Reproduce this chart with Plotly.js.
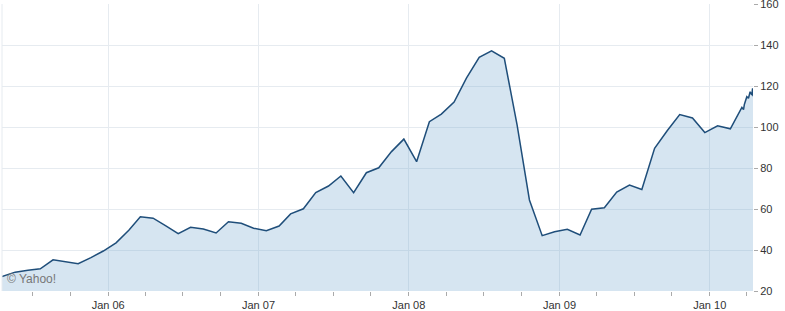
<!DOCTYPE html>
<html>
<head>
<meta charset="utf-8">
<script src="https://cdn.plot.ly/plotly-3.0.1.min.js"></script>
<style>html,body{margin:0;padding:0;background:#fff;}#chart{width:785px;height:311px;}</style>
</head>
<body>
<div id="chart"></div>
<script>
// Monthly closes (plotted near the 20th of each month), Apr 2005 – Mar 2010
const monthlyDates = [
  "2005-04-18","2005-05-20","2005-06-20","2005-07-20","2005-08-20","2005-09-20","2005-10-20","2005-11-20","2005-12-20",
  "2006-01-20","2006-02-20","2006-03-20","2006-04-20","2006-05-20","2006-06-20","2006-07-20","2006-08-20","2006-09-20","2006-10-20","2006-11-20","2006-12-20",
  "2007-01-20","2007-02-20","2007-03-20","2007-04-20","2007-05-20","2007-06-20","2007-07-20","2007-08-20","2007-09-20","2007-10-20","2007-11-20","2007-12-20",
  "2008-01-20","2008-02-20","2008-03-20","2008-04-20","2008-05-20","2008-06-20","2008-07-20","2008-08-20","2008-09-20","2008-10-20","2008-11-20","2008-12-20",
  "2009-01-20","2009-02-20","2009-03-20","2009-04-20","2009-05-20","2009-06-20","2009-07-20","2009-08-20","2009-09-20","2009-10-20","2009-11-20","2009-12-20",
  "2010-01-20","2010-02-20","2010-03-20"
];
const monthlyValues = [
  27.0, 29.2, 30.1, 30.8, 35.2, 34.1, 33.3, 36.3, 39.5,
  43.5, 49.6, 56.2, 55.5, 51.9, 48.0, 51.1, 50.2, 48.3, 53.8, 53.0, 50.6,
  49.4, 51.7, 57.6, 60.1, 68.0, 71.2, 76.1, 68.0, 77.7, 80.1, 88.0, 94.1,
  83.1, 102.6, 106.3, 112.2, 123.8, 134.0, 137.1, 133.5, 101.0, 64.4, 47.0, 48.9,
  50.1, 47.3, 59.9, 60.6, 68.3, 71.7, 69.5, 89.6, 98.3, 106.1, 104.4, 97.3,
  100.6, 99.1, 109.6
];
// Daily closes at the end of the range
const dailyDates = ["2010-03-24","2010-03-26","2010-03-30","2010-04-01","2010-04-05","2010-04-07","2010-04-09","2010-04-13","2010-04-15","2010-04-16"];
const dailyValues = [108.5, 111.0, 113.5, 114.8, 114.0, 116.0, 117.2, 115.6, 118.9, 115.0];

const xStart = "2005-04-18";
const xEnd = "2010-04-16";
const yTicks = [20, 40, 60, 80, 100, 120, 140, 160];
const copyrightText = "© Yahoo!";

const xs = monthlyDates.concat(dailyDates);
const ys = monthlyValues.concat(dailyValues);

const trace = {
  x: xs, y: ys, type: "scatter", mode: "lines",
  line: {color: "#1f4e7a", width: 1.5, shape: "linear"},
  fill: "tozeroy",
  fillcolor: "rgba(120,170,210,0.30)",
  hoverinfo: "skip"
};

const layout = {
  width: 785, height: 311,
  margin: {l: 2, r: 32, t: 4, b: 20, pad: 0},
  paper_bgcolor: "#ffffff", plot_bgcolor: "#ffffff",
  showlegend: false,
  font: {family: "Liberation Sans, Arial, sans-serif", size: 11, color: "#333"},
  xaxis: {
    type: "date", range: [xStart, xEnd],
    tick0: "2006-01-01", dtick: "M12", tickformat: "%b %y",
    showgrid: true, gridcolor: "#e6ebf0", gridwidth: 1,
    ticks: "outside", ticklen: 4, tickcolor: "#aaaaaa", tickwidth: 1,
    minor: {dtick: "M3", tick0: "2006-01-01", ticks: "outside", ticklen: 4, tickcolor: "#aaaaaa", showgrid: false},
    showline: false, zeroline: false, fixedrange: true,
    tickfont: {size: 11, color: "#333"}
  },
  yaxis: {
    side: "right", range: [20, 160], tickvals: yTicks,
    showgrid: true, gridcolor: "#e6ebf0", gridwidth: 1,
    ticks: "outside", ticklen: 4, tickcolor: "#aaaaaa", tickwidth: 1,
    showline: false, zeroline: false, fixedrange: true,
    ticklabeloverflow: "allow",
    tickfont: {size: 11, color: "#333"}, ticklabelstandoff: 0
  },
  shapes: [
    {type: "line", xref: "paper", yref: "paper", x0: 0, x1: 0, y0: 0, y1: 1, line: {color: "#e6ebf0", width: 1}}
  ],
  annotations: [
    {text: copyrightText, xref: "paper", yref: "paper", x: 0.004, y: 0.012, xanchor: "left", yanchor: "bottom",
     showarrow: false, font: {size: 12, color: "#777"}}
  ]
};

Plotly.newPlot("chart", [trace], layout, {displayModeBar: false, staticPlot: true});
</script>
</body>
</html>
